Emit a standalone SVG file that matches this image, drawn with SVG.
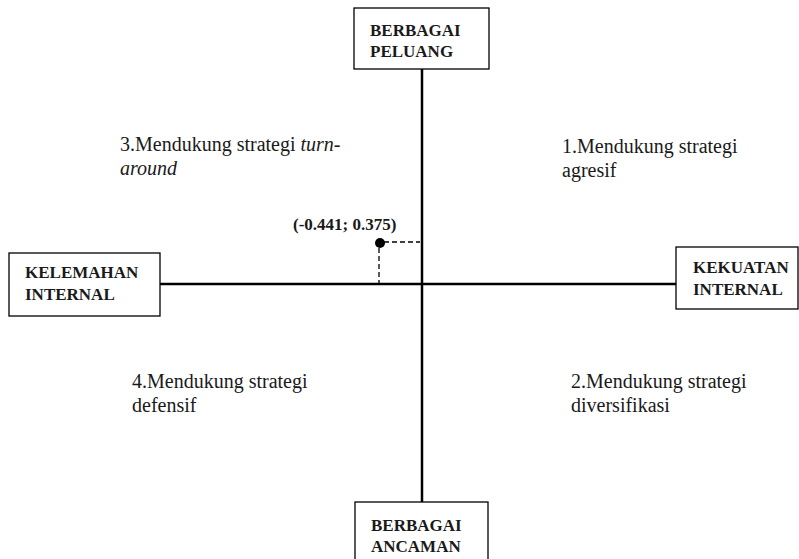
<svg xmlns="http://www.w3.org/2000/svg" width="799" height="559" viewBox="0 0 799 559">
<style>
.box{fill:#fff;stroke:#000;stroke-width:1.3}
.lbl{font-family:"Liberation Serif","Times New Roman",serif;font-weight:bold;font-size:17px;fill:#1a1a1a}
.q{font-family:"Liberation Serif","Times New Roman",serif;font-size:20px;fill:#1a1a1a}
.axis{stroke:#000;stroke-width:2.5;fill:none}
.dash{stroke:#000;stroke-width:1.3;stroke-dasharray:5,3;fill:none}
</style>
<rect width="799" height="559" fill="#fff"/>
<g id="connectors">
<line class="axis" x1="422" y1="69" x2="422" y2="502"/>
<line class="axis" x1="160" y1="284" x2="676" y2="284"/>
<line class="dash" x1="384" y1="242" x2="420" y2="242"/>
<line class="dash" x1="379" y1="248" x2="379" y2="283"/>
</g>
<g id="node-peluang">
<rect class="box" x="354" y="8" width="135" height="61"/>
<text class="lbl" x="370" y="36">BERBAGAI</text>
<text class="lbl" x="370" y="57">PELUANG</text>
</g>
<g id="node-ancaman">
<rect class="box" x="355" y="502" width="133" height="60"/>
<text class="lbl" x="371" y="531">BERBAGAI</text>
<text class="lbl" x="371" y="552">ANCAMAN</text>
</g>
<g id="node-kelemahan">
<rect class="box" x="9" y="253" width="151" height="63"/>
<text class="lbl" x="25" y="278">KELEMAHAN</text>
<text class="lbl" x="25" y="300">INTERNAL</text>
</g>
<g id="node-kekuatan">
<rect class="box" x="676" y="247" width="122" height="62"/>
<text class="lbl" x="693" y="273">KEKUATAN</text>
<text class="lbl" x="693" y="295">INTERNAL</text>
</g>
<g id="point">
<circle cx="380" cy="243" r="5" fill="#000"/>
<text class="lbl" x="293" y="230">(-0.441; 0.375)</text>
</g>
<g id="quadrant-1">
<text class="q" x="562" y="153">1.Mendukung strategi</text>
<text class="q" x="562" y="177">agresif</text>
</g>
<g id="quadrant-2">
<text class="q" x="571" y="388">2.Mendukung strategi</text>
<text class="q" x="571" y="412">diversifikasi</text>
</g>
<g id="quadrant-3">
<text class="q" x="120" y="151">3.Mendukung strategi <tspan font-style="italic">turn-</tspan></text>
<text class="q" x="120" y="175" font-style="italic">around</text>
</g>
<g id="quadrant-4">
<text class="q" x="132" y="388">4.Mendukung strategi</text>
<text class="q" x="132" y="412">defensif</text>
</g>
</svg>
